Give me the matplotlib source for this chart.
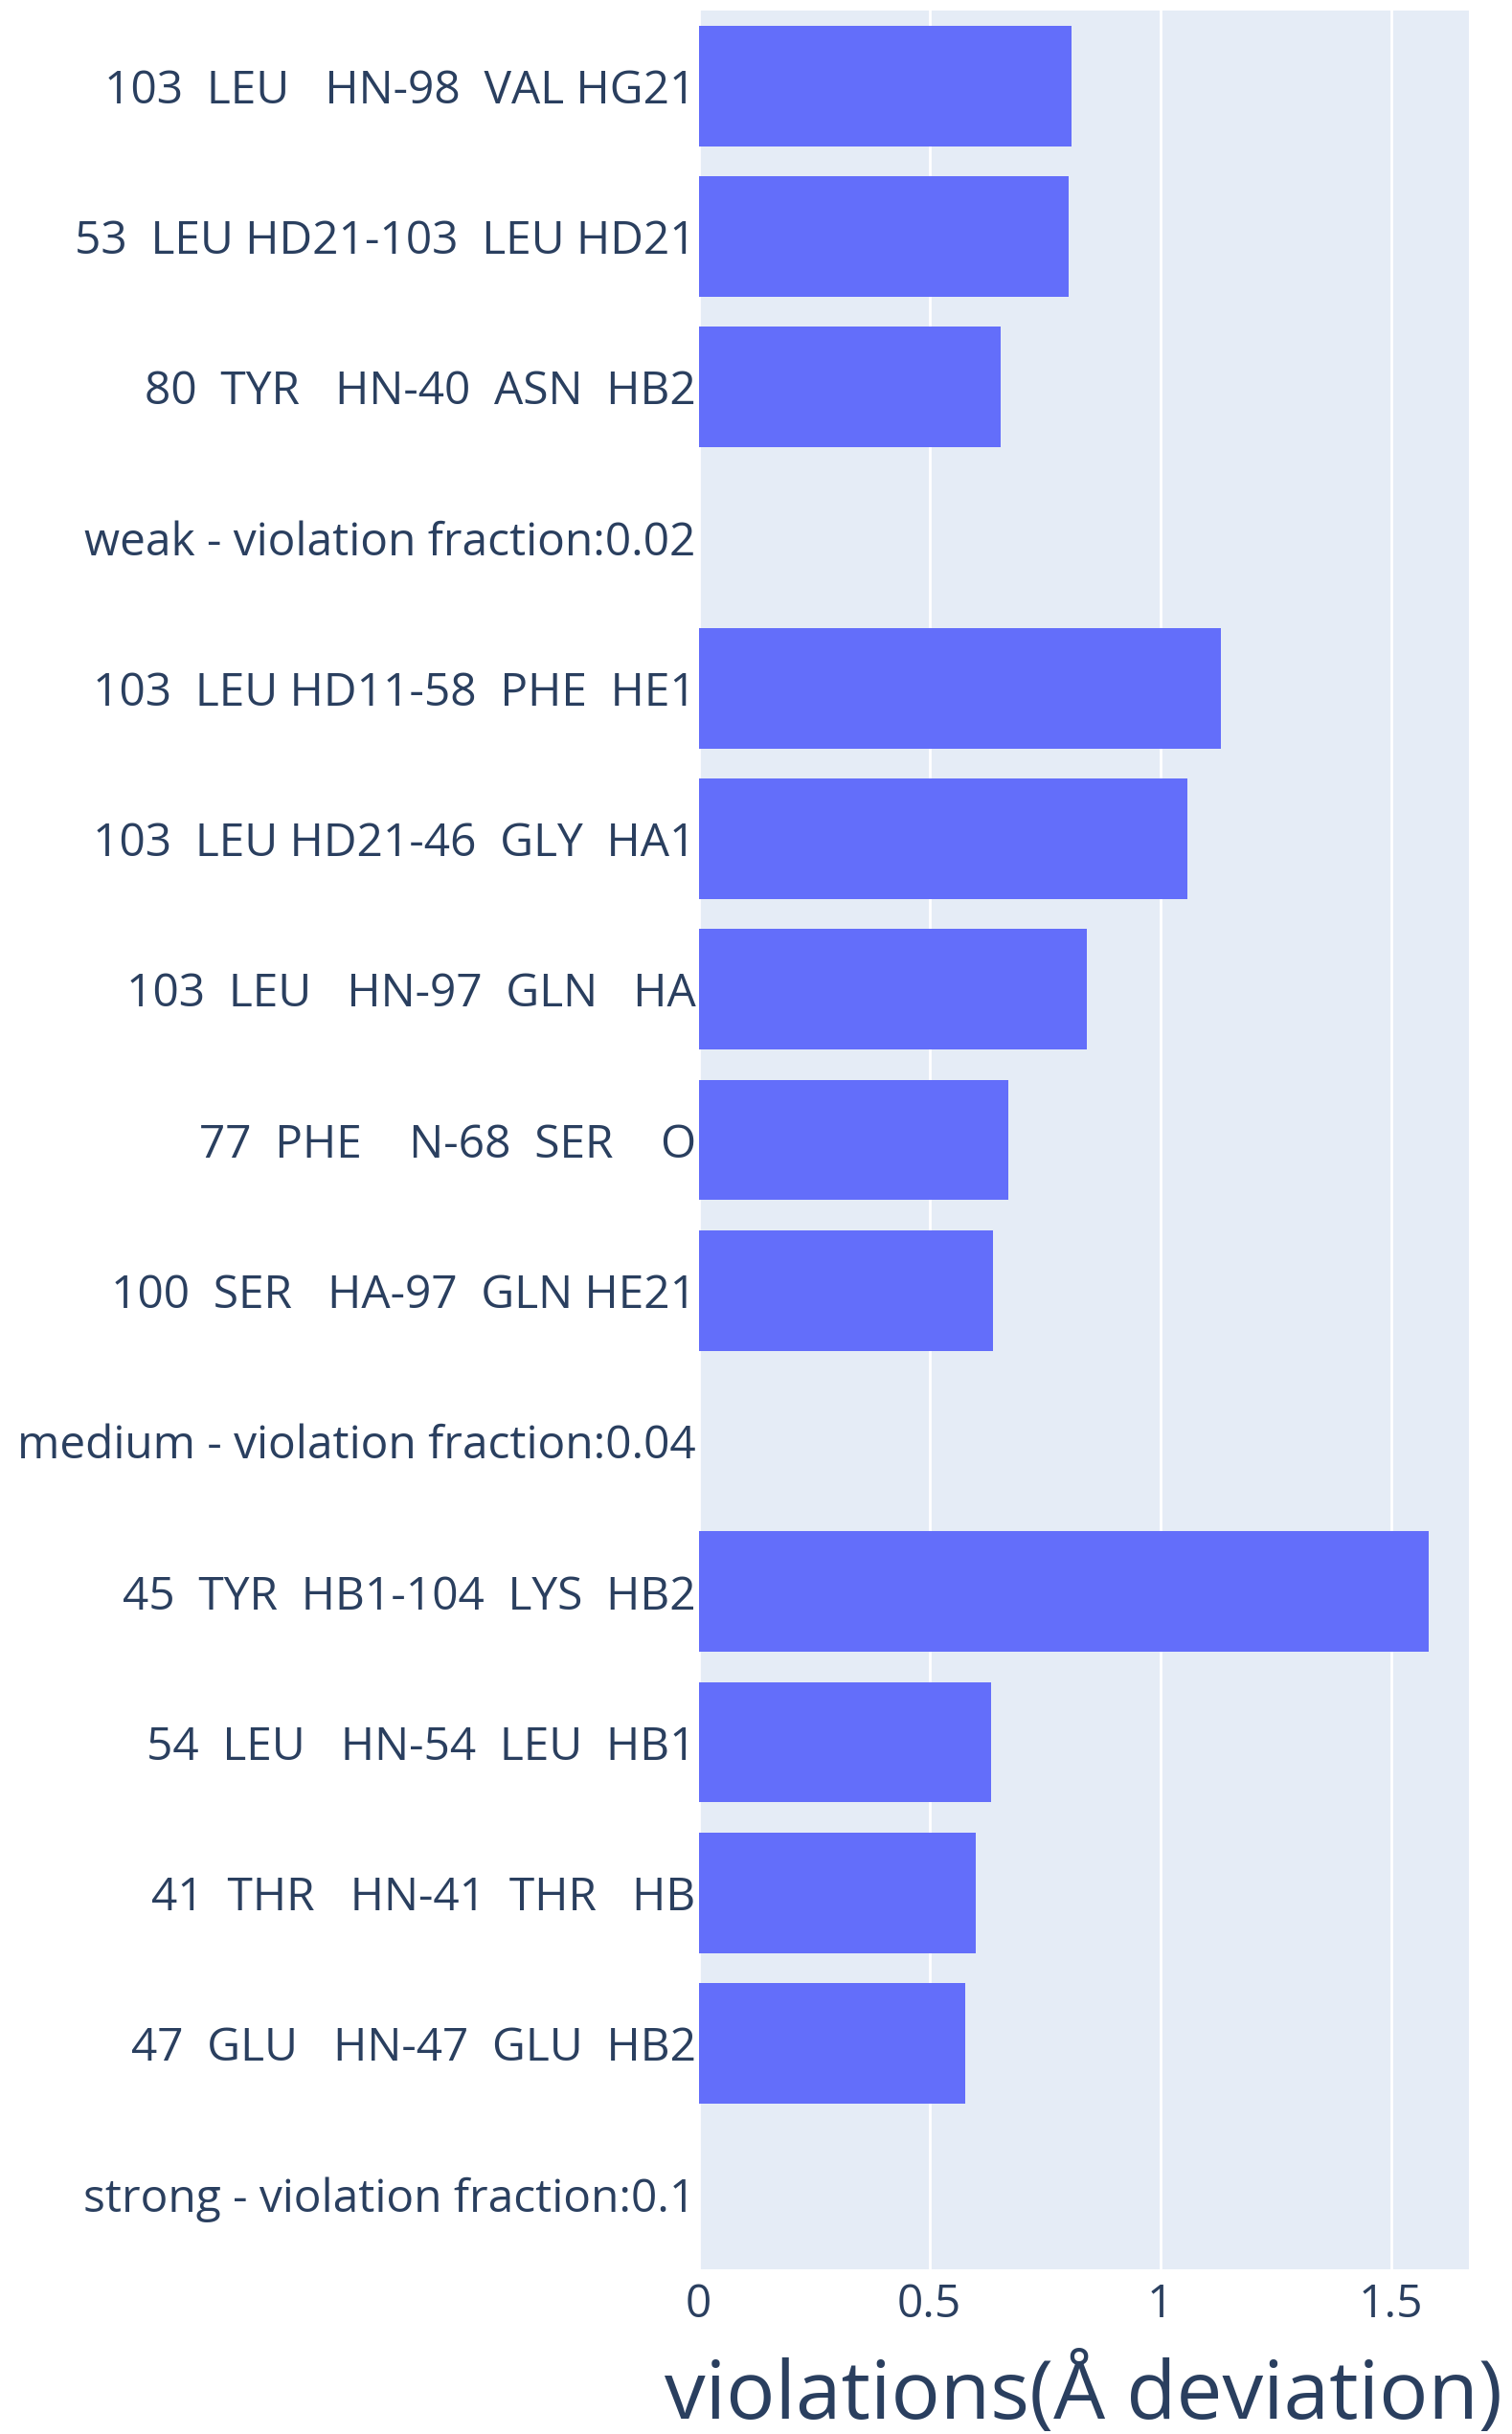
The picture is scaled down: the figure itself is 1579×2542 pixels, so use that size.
import matplotlib.pyplot as plt
import numpy as np

plt.rcParams['font.family'] = ['Open Sans', 'DejaVu Sans']

# top to bottom, as shown
labels = ['103  LEU   HN-98  VAL HG21',
          '53  LEU HD21-103  LEU HD21',
          '80  TYR   HN-40  ASN  HB2',
          'weak - violation fraction:0.02',
          '103  LEU HD11-58  PHE  HE1',
          '103  LEU HD21-46  GLY  HA1',
          '103  LEU   HN-97  GLN   HA',
          '77  PHE    N-68  SER    O',
          '100  SER   HA-97  GLN HE21',
          'medium - violation fraction:0.04',
          '45  TYR  HB1-104  LYS  HB2',
          '54  LEU   HN-54  LEU  HB1',
          '41  THR   HN-41  THR   HB',
          '47  GLU   HN-47  GLU  HB2',
          'strong - violation fraction:0.1']
violations = [0.809, 0.802, 0.654, 0, 1.131, 1.060, 0.842, 0.671, 0.638,
              0, 1.581, 0.634, 0.601, 0.577, 0]

W, H = 1579, 2542
fig = plt.figure(figsize=(W / 100, H / 100), dpi=100)
ax = fig.add_axes([729.5 / W, 1 - 2370 / H, (1533.5 - 729.5) / W, (2370 - 11) / H])
ax.set_facecolor('#e5ecf6')

y = np.arange(len(labels))
ax.barh(y, violations, height=0.8, color='#636efa', zorder=3)
ax.set_ylim(len(labels) - 0.5, -0.5)
ax.set_xlim(0, 1.668)
ax.set_yticks(y)
ax.set_yticklabels(labels)
ax.set_xticks([0, 0.5, 1, 1.5])
ax.set_xticklabels(['0', '0.5', '1', '1.5'])
ax.grid(axis='x', color='white', linewidth=2, zorder=1)
for s in ax.spines.values():
    s.set_visible(False)
ax.tick_params(axis='both', length=0, labelsize=34.5, colors='#2a3f5f')
ax.tick_params(axis='y', pad=2)
ax.tick_params(axis='x', pad=10)
ax.set_xlabel('violations(Å deviation)', fontsize=61.5, color='#2a3f5f', labelpad=20)

fig.savefig('out.png', dpi=100)
